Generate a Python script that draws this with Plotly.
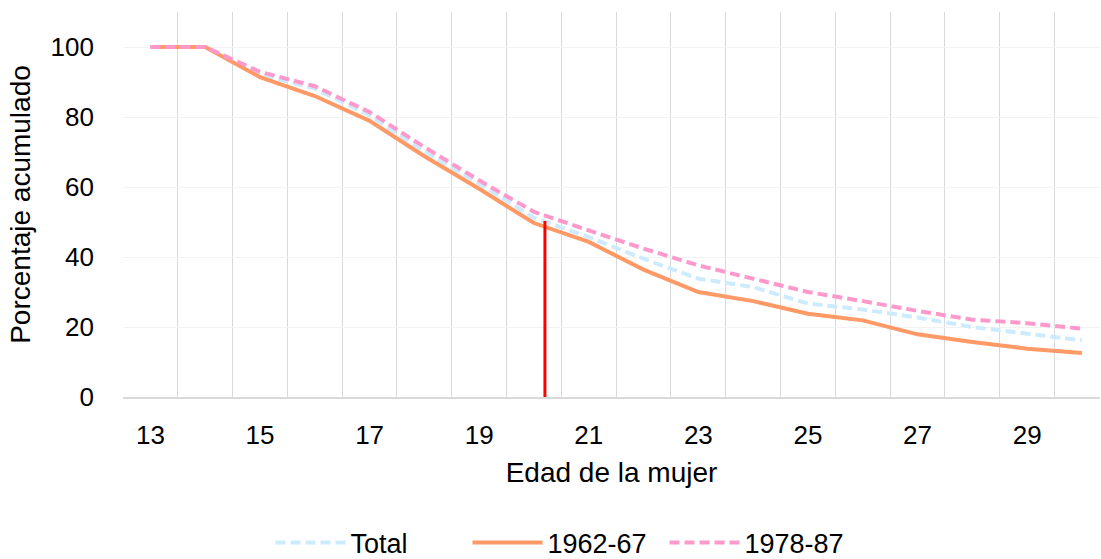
import plotly.graph_objects as go

ages = list(range(13, 31))
total = [100, 100, 92.2, 88.1, 80.5, 70.0, 61.0, 51.2, 45.7, 39.5, 33.8, 31.4, 26.7, 25.0, 22.7, 20.0, 18.1, 16.2]
c1962_67 = [100, 100, 91.4, 86.0, 78.9, 68.8, 59.5, 49.7, 44.3, 36.4, 30.0, 27.4, 23.8, 21.9, 17.9, 15.7, 13.8, 12.6]
c1978_87 = [100, 100, 92.9, 88.8, 81.4, 71.4, 61.9, 52.9, 47.6, 42.4, 37.6, 33.8, 30.0, 27.4, 24.6, 22.1, 21.1, 19.5]
median_x = [20.2, 20.2]
median_y = [0, 50.3]

x_tickvals = [13, 15, 17, 19, 21, 23, 25, 27, 29]
x_ticktext = ["13", "15", "17", "19", "21", "23", "25", "27", "29"]
y_tickvals = [0, 20, 40, 60, 80, 100]

FONT = "Liberation Sans, Arial, sans-serif"

fig = go.Figure()
fig.add_trace(go.Scatter(x=ages, y=total, name="Total", mode="lines",
                         line=dict(color="#CCEBFF", width=4, dash="10px,5px")))
fig.add_trace(go.Scatter(x=ages, y=c1962_67, name="1962-67", mode="lines",
                         line=dict(color="#FF9966", width=4)))
fig.add_trace(go.Scatter(x=ages, y=c1978_87, name="1978-87", mode="lines",
                         line=dict(color="#FF99CC", width=4, dash="10px,5px")))
fig.add_trace(go.Scatter(x=median_x, y=median_y, mode="lines", showlegend=False,
                         line=dict(color="#FF0000", width=3), hoverinfo="skip"))

fig.update_layout(
    width=1101, height=559,
    margin=dict(l=123, r=1, t=12, b=162, autoexpand=False),
    paper_bgcolor="white", plot_bgcolor="white",
    font=dict(family=FONT, color="#000000", size=26),
    legend=dict(orientation="h", xref="paper", yref="paper",
                x=(566 - 123) / 977, xanchor="center", y=(397 - 543) / 385, yanchor="middle",
                font=dict(size=27), itemwidth=70, traceorder="normal",
                entrywidth=112, entrywidthmode="pixels"),
    xaxis=dict(range=[12.5, 30.33], tickvals=x_tickvals, ticktext=x_ticktext,
               showgrid=False, zeroline=False, ticks="", automargin=False,
               ticklabelstandoff=14,
               tickfont=dict(size=26),
               showline=True, linecolor="#D9D9D9", linewidth=2,
               minor=dict(tick0=12.5, dtick=1, showgrid=True, gridcolor="#D9D9D9", gridwidth=1, ticks=""),
               title=dict(text="Edad de la mujer", font=dict(size=28), standoff=13)),
    yaxis=dict(range=[0, 110], tickvals=y_tickvals, showgrid=True, gridcolor="#F2F2F2", gridwidth=1,
               zeroline=False, ticks="", ticklabelstandoff=28, tickfont=dict(size=26), automargin=False,
               title=dict(text="Porcentaje acumulado", font=dict(size=28), standoff=11)),
)

fig.write_html("out.html", post_script="document.body.style.margin='0px';",
               config={"displayModeBar": False})
